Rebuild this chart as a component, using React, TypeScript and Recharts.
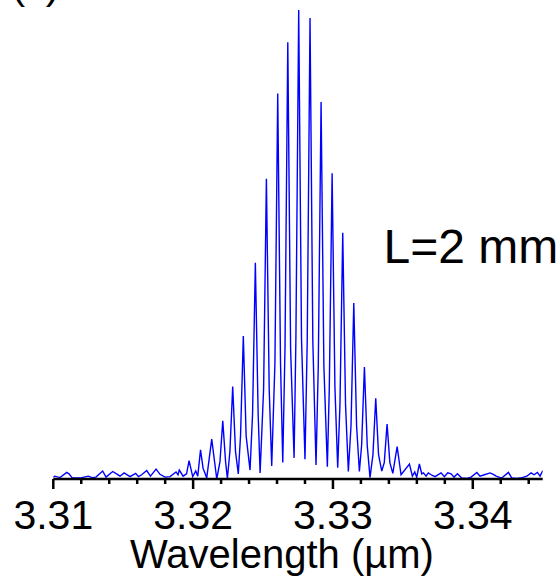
import React from "react";
import { LineChart, Line, XAxis, YAxis } from "recharts";

// Wavelength (µm) of each sampled point
const wavelengths: number[] = [
  3.3100, 3.3101, 3.31048, 3.31096, 3.31112, 3.31134, 3.31191, 3.3122, 3.3125, 3.31277,
  3.31305, 3.31353, 3.31377, 3.31425, 3.31458, 3.31477, 3.31506, 3.31549, 3.31589, 3.31609,
  3.31632, 3.31668, 3.31695, 3.31735, 3.31763, 3.31799, 3.31835, 3.31878, 3.31892, 3.31901,
  3.31928, 3.31953, 3.31971, 3.31997, 3.32019, 3.32033, 3.32053, 3.32071, 3.32085, 3.32097,
  3.32133, 3.32169,
  3.32192, 3.32212, 3.32232, 3.32245,
  3.32263, 3.32283, 3.32303, 3.32323,
  3.32339, 3.32359, 3.32379, 3.32407,
  3.32425, 3.32445, 3.32465, 3.32479,
  3.32504, 3.32524, 3.32544, 3.32562,
  3.32585, 3.32605, 3.32625, 3.32641,
  3.32657, 3.32677, 3.32697, 3.32722,
  3.32735, 3.32755, 3.32775, 3.32800,
  3.32816, 3.32836, 3.32856, 3.32879,
  3.32895, 3.32915, 3.32935, 3.32960,
  3.32974, 3.32994, 3.33014, 3.33034,
  3.33050, 3.33070, 3.33090, 3.33110,
  3.33129, 3.33149, 3.33169, 3.33189,
  3.33205, 3.33225, 3.33245, 3.33265,
  3.33286, 3.33306, 3.33326, 3.33349,
  3.33367, 3.33387, 3.33407, 3.33428,
  3.33459, 3.33487, 3.33547, 3.33568, 3.33585, 3.33599,
  3.33618, 3.33635, 3.33647, 3.33666, 3.33682, 3.33707, 3.3373, 3.33773, 3.33797, 3.33821,
  3.33845, 3.33866, 3.3389, 3.33921, 3.33957, 3.33988, 3.34029, 3.34052, 3.34083, 3.34124,
  3.34147, 3.34167, 3.34207, 3.34255, 3.34279, 3.34315, 3.34353, 3.34386, 3.34417, 3.34438,
  3.34462, 3.34481, 3.34501,
];

// Normalized intensity (a.u.) at each wavelength
const intensity: number[] = [
  0.004, 0.006, 0.003, 0.014, 0.011, 0.003, 0.002, 0.004, 0.006, 0.003,
  0.004, 0.017, 0.004, 0.016, 0.010, 0.006, 0.013, 0.005, 0.012, 0.005,
  0.009, 0.018, 0.006, 0.021, 0.010, 0.004, 0.005, 0.015, 0.009, 0.019,
  0.006, 0.011, 0.039, 0.005, 0.017, 0.006, 0.062, 0.023, 0.012, 0.002,
  0.085, 0.000,
  0.037, 0.124, 0.037, 0.001,
  0.059, 0.197, 0.059, 0.011,
  0.092, 0.305, 0.092, 0.019,
  0.138, 0.461, 0.138, 0.013,
  0.192, 0.640, 0.192, 0.028,
  0.247, 0.822, 0.247, 0.035,
  0.279, 0.931, 0.279, 0.045,
  0.300, 1.000, 0.300, 0.042,
  0.295, 0.983, 0.295, 0.030,
  0.241, 0.804, 0.241, 0.026,
  0.196, 0.652, 0.196, 0.024,
  0.158, 0.525, 0.158, 0.016,
  0.113, 0.375, 0.113, 0.016,
  0.072, 0.239, 0.072, 0.003,
  0.052, 0.172, 0.052, 0.017,
  0.035, 0.117, 0.035, 0.012,
  0.069, 0.009, 0.032, 0.006, 0.015, 0.004,
  0.032, 0.011, 0.013, 0.006, 0.013, 0.008, 0.005, 0.013, 0.005, 0.013,
  0.011, 0.004, 0.011, 0.002, 0.001, 0.004, 0.014, 0.006, 0.009, 0.013,
  0.010, 0.006, 0.002, 0.014, 0.002, 0.001, 0.003, 0.006, 0.013, 0.009,
  0.014, 0.006, 0.018,
];

const xTicks: number[] = [
  3.31, 3.312, 3.314, 3.316, 3.318, 3.32, 3.322, 3.324, 3.326, 3.328,
  3.33, 3.332, 3.334, 3.336, 3.338, 3.34, 3.342, 3.344,
];
const majorTickLabels: string[] = ["3.31", "3.32", "3.33", "3.34"];

const data = wavelengths.map((w, i) => ({ w, v: intensity[i] }));

const FONT = "'Liberation Sans', Arial, Helvetica, sans-serif";

const Tick = (props: any) => {
  const { x, y, payload } = props;
  const val: number = payload.value;
  const label = val.toFixed(2);
  const isMajor = majorTickLabels.includes(label) && Math.abs(val - parseFloat(label)) < 1e-6;
  return (
    <g>
      <line
        x1={x}
        x2={x}
        y1={y}
        y2={y + (isMajor ? 10 : 5)}
        stroke="#000"
        strokeWidth={2.5}
      />
      {isMajor && (
        <text
          x={x}
          y={y + 49.5}
          textAnchor="middle"
          fontFamily={FONT}
          fontSize={41}
          fill="#000"
        >
          {label}
        </text>
      )}
    </g>
  );
};

export default function App() {
  return (
    <div style={{ position: "relative", width: 560, height: 580, background: "#fff" }}>
      <style>{"body{margin:0;}"}</style>
      <LineChart
        width={560}
        height={580}
        data={data}
        margin={{ top: 10, right: 17.3, left: 53.3, bottom: 0 }}
      >
        <XAxis
          dataKey="w"
          type="number"
          domain={[3.31, 3.345]}
          ticks={xTicks}
          interval={0}
          tick={<Tick />}
          tickLine={false}
          tickSize={0}
          tickMargin={0}
          axisLine={{ stroke: "#000", strokeWidth: 2.5 }}
          height={101}
          allowDataOverflow
        />
        <YAxis hide domain={[0, 1]} width={0} />
        <Line
          type="linear"
          dataKey="v"
          stroke="#0000ff"
          strokeWidth={1.4}
          dot={false}
          isAnimationActive={false}
        />
      </LineChart>
      <svg
        width={560}
        height={580}
        style={{ position: "absolute", left: 0, top: 0, pointerEvents: "none" }}
      >
        <text x={11.5} y={-1.5} fontFamily={FONT} fontSize={41} fill="#000">
          (c)
        </text>
        <text x={383.5} y={262.7} fontFamily={FONT} fontSize={48} fill="#000">
          L=2 mm
        </text>
        <text x={282} y={568.3} textAnchor="middle" fontFamily={FONT} fontSize={40} fill="#000">
          Wavelength (µm)
        </text>
      </svg>
    </div>
  );
}
